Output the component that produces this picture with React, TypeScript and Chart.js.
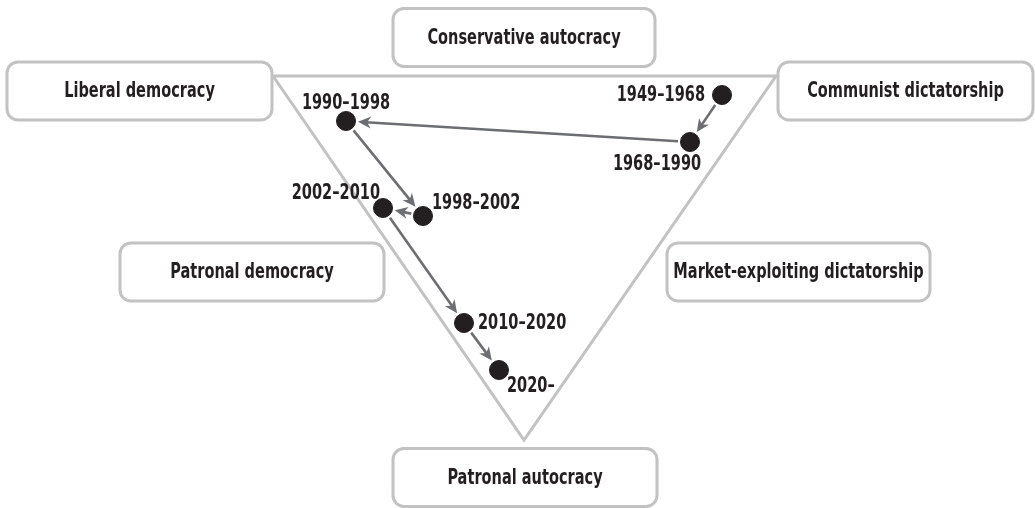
import React, { useEffect, useRef } from 'react';
import { Chart, registerables } from 'chart.js';

Chart.register(...registerables);

// Trajectory periods (positions in the diagram's coordinate space)
const periods = ['1949–1968', '1968–1990', '1990–1998', '1998–2002', '2002–2010', '2010–2020', '2020–'];
const periodX = [722, 690, 346, 423, 383, 464, 499];
const periodY = [95, 142, 121, 216, 208, 323, 370];

// Regime types (ideal-type corners and edges of the triangle)
const regimes = [
  'Liberal democracy',
  'Conservative autocracy',
  'Communist dictatorship',
  'Patronal democracy',
  'Market-exploiting dictatorship',
  'Patronal autocracy',
];
const regimeX = [139.5, 524, 905.5, 252, 798.5, 525];
const regimeY = [91, 37.5, 91, 272, 272, 477.5];

// Triangle vertices
const triangleX = [273, 776, 524, 273];
const triangleY = [76, 76, 440, 76];

// Layout for period labels (pixel offsets from the point)
const labelLayout: { align: 'left' | 'right' | 'center'; dx: number; dy: number }[] = [
  { align: 'right', dx: -17, dy: 1 },
  { align: 'center', dx: -33, dy: 23 },
  { align: 'center', dx: 0, dy: -17 },
  { align: 'left', dx: 9, dy: -12 },
  { align: 'right', dx: -3, dy: -14 },
  { align: 'left', dx: 14, dy: 1 },
  { align: 'left', dx: 8, dy: 17 },
];
const boxW = [265, 262, 255, 264, 263, 264];
const boxH = 58;

const FONT = '"DejaVu Sans Condensed", "Liberation Sans Narrow", sans-serif';
const SQUEEZE = 0.77;

function roundRect(ctx: CanvasRenderingContext2D, x: number, y: number, w: number, h: number, r: number) {
  ctx.beginPath();
  ctx.moveTo(x + r, y);
  ctx.lineTo(x + w - r, y);
  ctx.arcTo(x + w, y, x + w, y + r, r);
  ctx.lineTo(x + w, y + h - r);
  ctx.arcTo(x + w, y + h, x + w - r, y + h, r);
  ctx.lineTo(x + r, y + h);
  ctx.arcTo(x, y + h, x, y + h - r, r);
  ctx.lineTo(x, y + r);
  ctx.arcTo(x, y, x + r, y, r);
  ctx.closePath();
}

function squeezedText(ctx: CanvasRenderingContext2D, text: string, x: number, y: number, align: 'left' | 'right' | 'center') {
  ctx.save();
  ctx.translate(x, y);
  ctx.scale(SQUEEZE, 1);
  ctx.textAlign = align;
  ctx.fillText(text, 0, 0);
  ctx.restore();
}

function drawArrow(ctx: CanvasRenderingContext2D, x1: number, y1: number, x2: number, y2: number) {
  const dx = x2 - x1;
  const dy = y2 - y1;
  const len = Math.hypot(dx, dy);
  const ux = dx / len;
  const uy = dy / len;
  const sx = x1 + ux * 12;
  const sy = y1 + uy * 12;
  const ex = x2 - ux * 12;
  const ey = y2 - uy * 12;
  const headL = 13;
  const headW = 6;
  ctx.save();
  ctx.strokeStyle = '#6d6e71';
  ctx.fillStyle = '#6d6e71';
  ctx.lineWidth = 2.6;
  ctx.beginPath();
  ctx.moveTo(sx, sy);
  ctx.lineTo(ex - ux * headL * 0.6, ey - uy * headL * 0.6);
  ctx.stroke();
  ctx.beginPath();
  ctx.moveTo(ex, ey);
  ctx.lineTo(ex - ux * headL - uy * headW, ey - uy * headL + ux * headW);
  ctx.lineTo(ex - ux * headL * 0.7, ey - uy * headL * 0.7);
  ctx.lineTo(ex - ux * headL + uy * headW, ey - uy * headL - ux * headW);
  ctx.closePath();
  ctx.fill();
  ctx.restore();
}

const diagramPlugin = {
  id: 'diagram',
  afterDatasetDraw(chart: any, args: any) {
    if (args.index !== 1) return;
    const ctx = chart.ctx as CanvasRenderingContext2D;
    const xs = chart.scales.x;
    const ys = chart.scales.y;
    for (let i = 0; i < periods.length - 1; i++) {
      drawArrow(
        ctx,
        xs.getPixelForValue(periodX[i]),
        ys.getPixelForValue(periodY[i]),
        xs.getPixelForValue(periodX[i + 1]),
        ys.getPixelForValue(periodY[i + 1])
      );
    }
  },
  afterDraw(chart: any) {
    const ctx = chart.ctx as CanvasRenderingContext2D;
    const xs = chart.scales.x;
    const ys = chart.scales.y;
    ctx.save();
    ctx.font = `bold 21px ${FONT}`;
    ctx.fillStyle = '#231f20';
    ctx.textBaseline = 'middle';
    periods.forEach((p, i) => {
      const l = labelLayout[i];
      squeezedText(ctx, p, xs.getPixelForValue(periodX[i]) + l.dx, ys.getPixelForValue(periodY[i]) + l.dy, l.align);
    });
    regimes.forEach((r, i) => {
      const cx = xs.getPixelForValue(regimeX[i]);
      const cy = ys.getPixelForValue(regimeY[i]);
      const w = boxW[i];
      roundRect(ctx, cx - w / 2, cy - boxH / 2, w, boxH, 11);
      ctx.fillStyle = '#ffffff';
      ctx.fill();
      ctx.strokeStyle = '#c2c2c2';
      ctx.lineWidth = 3;
      ctx.stroke();
      ctx.fillStyle = '#231f20';
      squeezedText(ctx, r, cx, cy + 1, 'center');
    });
    ctx.restore();
  },
};

export default function App() {
  const ref = useRef<HTMLCanvasElement>(null);
  useEffect(() => {
    if (!ref.current) return;
    const chart = new Chart(ref.current, {
      type: 'scatter',
      data: {
        datasets: [
          {
            label: 'Trajectory',
            data: periodX.map((x, i) => ({ x, y: periodY[i] })),
            backgroundColor: '#231f20',
            borderColor: '#231f20',
            pointRadius: 9.5,
            pointHoverRadius: 9.5,
            showLine: false,
          },
          {
            label: 'Triangle',
            data: triangleX.map((x, i) => ({ x, y: triangleY[i] })),
            showLine: true,
            borderColor: '#c2c2c2',
            borderWidth: 3,
            pointRadius: 0,
            fill: false,
            borderJoinStyle: 'miter',
          },
        ],
      },
      options: {
        animation: false,
        responsive: false,
        events: [],
        layout: { padding: 0, autoPadding: false },
        plugins: { legend: { display: false }, tooltip: { enabled: false } },
        scales: {
          x: { type: 'linear', min: 0, max: 1035, display: false },
          y: { type: 'linear', min: 0, max: 508, reverse: true, display: false },
        },
      },
      plugins: [diagramPlugin],
    });
    return () => chart.destroy();
  }, []);
  return (
    <div style={{ position: 'absolute', left: 0, top: 0, width: 1035, height: 508, background: '#fff' }}>
      <canvas ref={ref} width={1035} height={508} />
    </div>
  );
}
